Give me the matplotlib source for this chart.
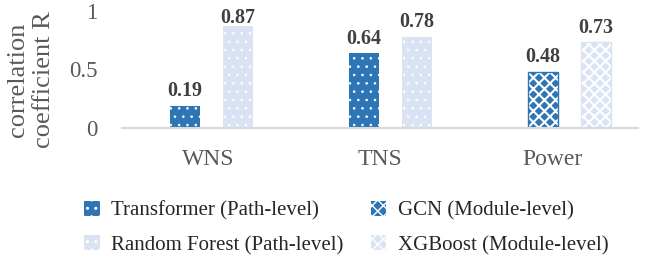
import matplotlib
matplotlib.use('Agg')
import matplotlib.pyplot as plt
import numpy as np
from matplotlib.patches import Patch

plt.rcParams['font.family'] = ['Liberation Serif', 'DejaVu Serif']

categories = ['WNS', 'TNS', 'Power']
# first bar in each group: Transformer for WNS/TNS, GCN for Power
first_vals = [0.19, 0.64, 0.48]
second_vals = [0.87, 0.78, 0.73]
series_names = ['Transformer (Path-level)', 'Random Forest (Path-level)',
                'GCN (Module-level)', 'XGBoost (Module-level)']

dark = '#2E75B6'
light = '#DAE3F3'
txt = '#595959'

fig = plt.figure(figsize=(6.64, 2.59), dpi=100)
ax = fig.add_axes([0.184, 0.506, 0.777, 0.452])

x = np.arange(len(categories))
w = 0.174
off1 = -0.134 + 0.041 * x
off2 = off1 + 0.308


def dotted_bar(xc, v, face):
    ax.bar(xc, v, w, color=face, linewidth=0)
    with plt.rc_context({'hatch.linewidth': 0.6}):
        ax.bar(xc, v, w, color='none', edgecolor='white', hatch='..', linewidth=0)


def diamond_bar(xc, v, col):
    ax.bar(xc, v, w, color=col, linewidth=0)
    with plt.rc_context({'hatch.linewidth': 1.5}):
        ax.bar(xc, v, w, color='none', edgecolor='white', hatch='xxx', linewidth=0)
    ax.bar(xc, v, w, color='none', edgecolor=col, linewidth=1)


def label(xc, v):
    y = min(v + 0.08, 0.897)
    ax.text(xc, y, f'{v:.2f}', ha='center', va='baseline', fontsize=14.5,
            fontweight='bold', color='#404040')


for i in range(len(categories)):
    if categories[i] != 'Power':
        dotted_bar(x[i] + off1[i], first_vals[i], dark)
        dotted_bar(x[i] + off2[i], second_vals[i], light)
    else:
        diamond_bar(x[i] + off1[i], first_vals[i], dark)
        diamond_bar(x[i] + off2[i], second_vals[i], light)
    label(x[i] + off1[i], first_vals[i])
    label(x[i] + off2[i], second_vals[i])

ax.set_xlim(-0.5, 2.5)
ax.set_ylim(0, 1)
ax.set_xticks(x)
ax.set_xticklabels(categories, fontsize=17, color=txt)
ax.set_yticks([0, 0.5, 1])
ax.set_yticklabels(['0', '0.5', '1'], fontsize=16.5, color=txt)
ax.tick_params(axis='x', length=0, pad=15)
ax.tick_params(axis='y', length=0, pad=18)
for s in ['top', 'right', 'left']:
    ax.spines[s].set_visible(False)
ax.spines['bottom'].set_color('#D9D9D9')
ax.spines['bottom'].set_linewidth(1.5)

fig.text(31 / 664, 1 - 80 / 259, 'correlation\ncoefficient R', rotation=90,
         ha='center', va='center', fontsize=19, color=txt, linespacing=1.2)

# legend handles
with plt.rc_context({'hatch.linewidth': 0.6}):
    h_tr = (Patch(facecolor=dark, linewidth=0),
            Patch(facecolor='none', edgecolor='white', hatch='..', linewidth=0))
    h_rf = (Patch(facecolor=light, linewidth=0),
            Patch(facecolor='none', edgecolor='white', hatch='..', linewidth=0))
with plt.rc_context({'hatch.linewidth': 1.5}):
    h_gcn = (Patch(facecolor=dark, linewidth=0),
             Patch(facecolor='none', edgecolor='white', hatch='xxx', linewidth=0))
    h_xgb = (Patch(facecolor=light, linewidth=0),
             Patch(facecolor='none', edgecolor='white', hatch='xxx', linewidth=0))

fig.legend([h_tr, h_rf, h_gcn, h_xgb], series_names, ncol=2, loc='upper left',
           bbox_to_anchor=(0.127, 0.225), frameon=False, fontsize=15,
           handlelength=0.75, handleheight=0.75, handletextpad=0.55,
           columnspacing=1.3, labelspacing=0.7, borderpad=0, borderaxespad=0,
           labelcolor='#262626')

fig.savefig('out.png', dpi=100)
